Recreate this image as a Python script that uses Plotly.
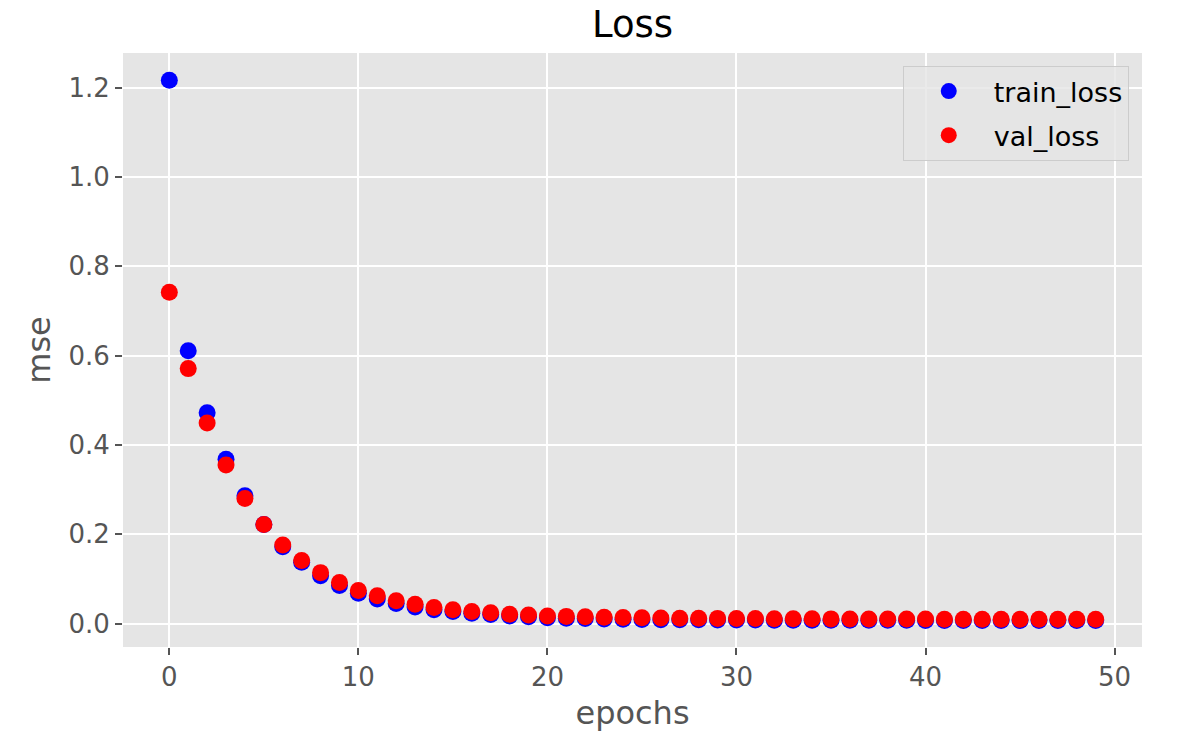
import plotly.graph_objects as go

epochs = list(range(50))

train_loss = [
    1.217, 0.611, 0.472, 0.368, 0.286, 0.222, 0.172, 0.137, 0.107, 0.085,
    0.068, 0.055, 0.045, 0.037, 0.031, 0.027, 0.023, 0.020, 0.017, 0.015,
    0.013, 0.012, 0.011, 0.0102, 0.0096, 0.0091, 0.0087, 0.0084, 0.0082, 0.0080,
    0.0078, 0.0077, 0.0076, 0.0075, 0.0074, 0.0073, 0.0072, 0.0072, 0.0071, 0.0071,
    0.0070, 0.0070, 0.0070, 0.0069, 0.0069, 0.0069, 0.0068, 0.0068, 0.0068, 0.0068,
]

val_loss = [
    0.742, 0.571, 0.449, 0.355, 0.280, 0.222, 0.176, 0.141, 0.114, 0.092,
    0.074, 0.062, 0.051, 0.043, 0.036, 0.031, 0.027, 0.024, 0.021, 0.019,
    0.017, 0.016, 0.015, 0.014, 0.0135, 0.013, 0.0125, 0.012, 0.0118, 0.0115,
    0.0113, 0.0110, 0.0108, 0.0106, 0.0105, 0.0104, 0.0103, 0.0102, 0.0101, 0.0100,
    0.0099, 0.0098, 0.0097, 0.0097, 0.0096, 0.0096, 0.0095, 0.0095, 0.0095, 0.0094,
]

FONT = "DejaVu Sans"
GRAY = "#555555"

fig = go.Figure()
fig.add_trace(go.Scatter(
    x=epochs, y=train_loss, mode="markers", name="train_loss", legendgroup="a",
    marker=dict(color="blue", size=17),
))
fig.add_trace(go.Scatter(
    x=epochs, y=val_loss, mode="markers", name="val_loss", legendgroup="b",
    marker=dict(color="red", size=17),
))

axis_common = dict(
    showgrid=True, gridcolor="white", gridwidth=2,
    zeroline=False, showline=False,
    ticks="outside", ticklen=7, tickwidth=1.5, tickcolor=GRAY,
    tickfont=dict(family=FONT, size=26, color=GRAY),
)

# page body has an 8px margin, so the figure is a little smaller than the window
fig.update_layout(
    width=1169, height=744,
    margin=dict(l=115, r=35, t=45, b=105),
    paper_bgcolor="white",
    plot_bgcolor="#E5E5E5",
    title=dict(text="Loss", x=0.5, xanchor="center", xref="paper",
               y=0.978, yanchor="middle",
               font=dict(family=FONT, size=37, color="black")),
    xaxis=dict(
        range=[-2.45, 51.45], tickvals=[0, 10, 20, 30, 40, 50],
        title=dict(text="epochs", font=dict(family=FONT, size=32, color=GRAY), standoff=10),
        **axis_common,
    ),
    yaxis=dict(
        range=[-0.0526, 1.278], tickvals=[0.0, 0.2, 0.4, 0.6, 0.8, 1.0, 1.2],
        tickformat=".1f",
        title=dict(text="mse", font=dict(family=FONT, size=32, color=GRAY), standoff=8),
        **axis_common,
    ),
    legend=dict(
        x=0.987, y=0.978, xanchor="right", yanchor="top",
        bgcolor="rgba(229,229,229,0.8)", bordercolor="#CCCCCC", borderwidth=1,
        font=dict(family=FONT, size=27, color="black"),
        itemwidth=80, tracegroupgap=6,
    ),
    showlegend=True,
)

fig.write_html("out.html")
